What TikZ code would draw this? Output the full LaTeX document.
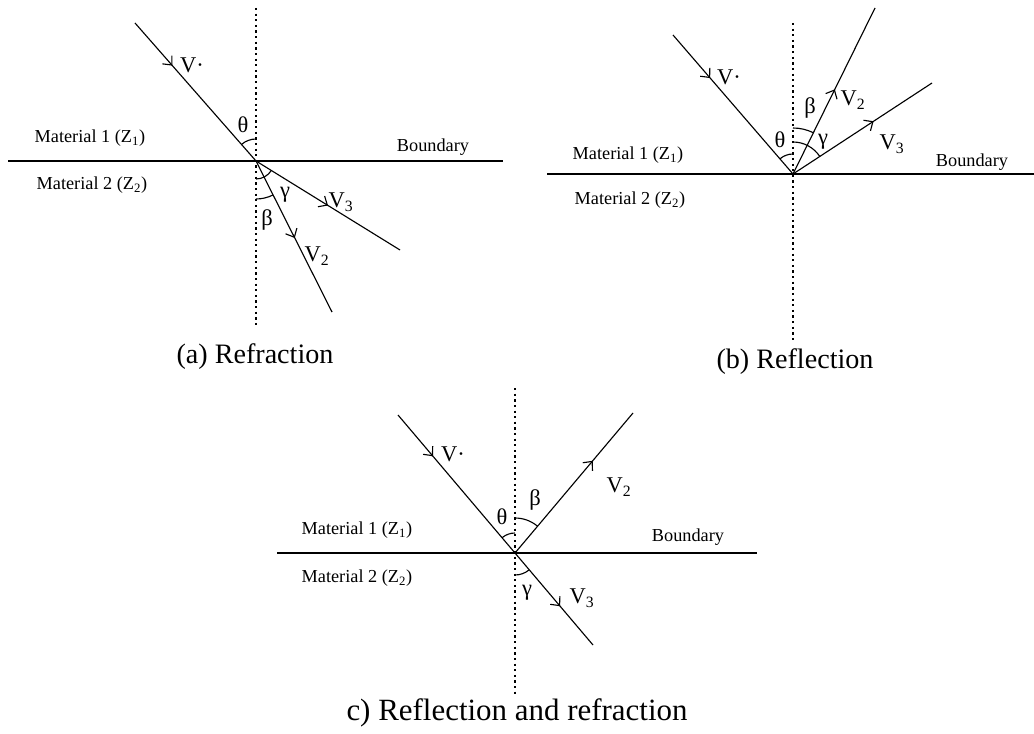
\documentclass[tikz,border=0pt]{standalone}
\usepackage{fontspec}
\setmainfont{Liberation Serif}
\usetikzlibrary{arrows.meta,decorations.markings}
\tikzset{
  ray/.style={line width=0.8pt},
  midarrow/.style={postaction={decorate},decoration={markings,mark=at position #1 with {\arrow{Straight Barb[length=5pt,width=9pt,line width=0.8pt]}}}},
  normal/.style={line width=1pt,dash pattern=on 1.6pt off 2.4pt},
  bound/.style={line width=2pt},
  mat/.style={font=\fontsize{13}{15}\selectfont},
  sym/.style={font=\fontsize{16}{18}\selectfont,inner sep=1pt},
  figcap/.style={font=\fontsize{20}{24}\selectfont}
}
\begin{document}
\begin{tikzpicture}[x=0.025cm,y=0.025cm]
\useasboundingbox (0,0) rectangle (1034,733);
% (a) Refraction
\coordinate (aO) at (256,572);
\coordinate (aT) at (256,725); \coordinate (aB) at (256,405);
\coordinate (aL) at (8,572); \coordinate (aR) at (503,572);
\coordinate (aI) at (135,710); \coordinate (a2) at (332,421); \coordinate (a3) at (400,483);
\draw[normal] (aT) -- (aB);
\draw[bound] (aL) -- (aR);
\draw[ray,midarrow=0.31] (aI) -- (aO);
\draw[ray,midarrow=0.5] (aO) -- (a3);
\draw[ray,midarrow=0.51] (aO) -- (a2);
\draw[ray] (aO) ++(90:22) arc[start angle=90,end angle=131,radius=22];
\draw[ray] (aO) ++(-90:18) arc[start angle=-90,end angle=-32,radius=18];
\draw[ray] (aO) ++(-90:38) arc[start angle=-90,end angle=-63,radius=38];
\node[sym] (aVi) at (192,668) {V·};
\node[sym] (ath) at (243,608) {θ};
\node[sym] (aga) at (285,538) {γ};
\node[sym] (abe) at (267,513) {β};
\node[sym] (aV3) at (341,531) {V\textsubscript{3}};
\node[sym] (aV2) at (317,477) {V\textsubscript{2}};
\node[mat] (aM1) at (90,595) {Material 1 (Z\textsubscript{1})};
\node[mat] (aM2) at (92,548) {Material 2 (Z\textsubscript{2})};
\node[mat] (aBd) at (433,586) {Boundary};
\node[figcap] (acap) at (255,376) {(a) Refraction};
% (b) Reflection
\coordinate (bO) at (793,559);
\coordinate (bT) at (793,710); \coordinate (bB) at (793,391);
\coordinate (bL) at (547,559); \coordinate (bR) at (1034,559);
\coordinate (bI) at (673,698); \coordinate (b2) at (875,725); \coordinate (b3) at (932,650);
\draw[normal] (bT) -- (bB);
\draw[bound] (bL) -- (bR);
\draw[ray,midarrow=0.31] (bI) -- (bO);
\draw[ray,midarrow=0.51] (bO) -- (b2);
\draw[ray,midarrow=0.58] (bO) -- (b3);
\draw[ray] (bO) ++(90:20) arc[start angle=90,end angle=131,radius=20];
\draw[ray] (bO) ++(90:46) arc[start angle=90,end angle=64,radius=46];
\draw[ray] (bO) ++(90:32) arc[start angle=90,end angle=33,radius=32];
\node[sym] (bVi) at (729,656) {V·};
\node[sym] (bth) at (780,593) {θ};
\node[sym] (bbe) at (810,625) {β};
\node[sym] (bga) at (823,591) {γ};
\node[sym] (bV2) at (853,633) {V\textsubscript{2}};
\node[sym] (bV3) at (892,589) {V\textsubscript{3}};
\node[mat] (bM1) at (628,578) {Material 1 (Z\textsubscript{1})};
\node[mat] (bM2) at (630,533) {Material 2 (Z\textsubscript{2})};
\node[mat] (bBd) at (972,571) {Boundary};
\node[figcap] (bcap) at (795,371) {(b) Reflection};
% c) Reflection and refraction
\coordinate (cO) at (515,180);
\coordinate (cT) at (515,345); \coordinate (cB) at (515,38);
\coordinate (cL) at (277,180); \coordinate (cR) at (757,180);
\coordinate (cI) at (398,318); \coordinate (c2) at (633,320); \coordinate (c3) at (593,88);
\draw[normal] (cT) -- (cB);
\draw[bound] (cL) -- (cR);
\draw[ray,midarrow=0.3] (cI) -- (cO);
\draw[ray,midarrow=0.66] (cO) -- (c2);
\draw[ray,midarrow=0.58] (cO) -- (c3);
\draw[ray] (cO) ++(90:20) arc[start angle=90,end angle=130,radius=20];
\draw[ray] (cO) ++(90:35) arc[start angle=90,end angle=50,radius=35];
\draw[ray] (cO) ++(-90:22) arc[start angle=-90,end angle=-50,radius=22];
\node[sym] (cVi) at (453,279) {V·};
\node[sym] (cth) at (502,216) {θ};
\node[sym] (cbe) at (535,233) {β};
\node[sym] (cga) at (527,140) {γ};
\node[sym] (cV2) at (619,246) {V\textsubscript{2}};
\node[sym] (cV3) at (582,135) {V\textsubscript{3}};
\node[mat] (cM1) at (357,203) {Material 1 (Z\textsubscript{1})};
\node[mat] (cM2) at (357,155) {Material 2 (Z\textsubscript{2})};
\node[mat] (cBd) at (688,196) {Boundary};
\node[figcap,font=\fontsize{22}{26}\selectfont] (ccap) at (517,20) {c) Reflection and refraction};
\end{tikzpicture}
\end{document}
